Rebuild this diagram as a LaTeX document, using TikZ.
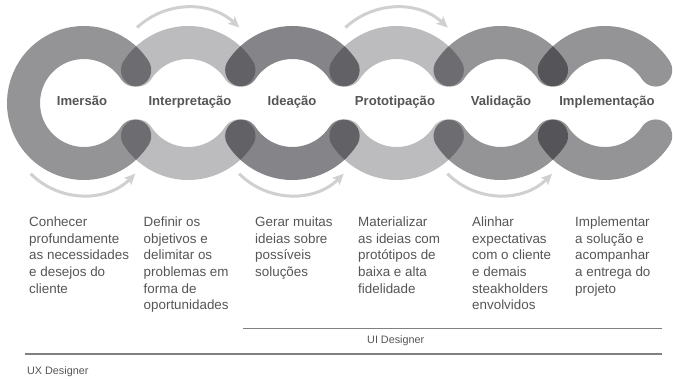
\documentclass[tikz,border=0pt]{standalone}
\usepackage{fontspec}
\setmainfont{Liberation Sans}
\usetikzlibrary{arrows.meta}
\definecolor{ringmid}{RGB}{148,148,151}
\definecolor{ringlight}{RGB}{188,188,191}
\definecolor{ringdark}{RGB}{133,133,137}
\definecolor{txt}{RGB}{85,85,87}
\definecolor{arrowgray}{RGB}{208,208,208}
\definecolor{rulegray}{RGB}{128,128,130}
\begin{document}
\begin{tikzpicture}[x=1pt,y=1pt,
  band/.style={line width=33pt, line cap=round},
  flow/.style={draw=arrowgray, line width=3pt, -{Stealth[length=11pt,width=10pt,inset=2.5pt]}},
  phase/.style={font=\fontsize{13.1}{15}\selectfont\bfseries, text=txt, inner sep=0pt, anchor=base},
  desc/.style={font=\fontsize{13.4}{16.7}\selectfont, text=txt, inner sep=0pt, anchor=north west, align=left},
  role/.style={font=\fontsize{10.8}{13}\selectfont, text=txt, inner sep=0pt, anchor=base west}]
\useasboundingbox (0,0) rectangle (673,379);
\foreach \i/\x in {1/84,2/188.2,3/292.4,4/396.6,5/500.8,6/605}
  \coordinate (r\i) at (\x,276);
% rings
\begin{scope}[blend group=multiply]
  \draw[band, draw=ringmid] (r1) ++(33:60.5) arc[start angle=33, end angle=327, radius=60.5];
  \foreach \i/\c in {2/ringlight,3/ringdark,4/ringlight,5/ringmid,6/ringmid}{
    \draw[band, draw=\c] (r\i) ++(147:60.5) arc[start angle=147, end angle=33, radius=60.5];
    \draw[band, draw=\c] (r\i) ++(213:60.5) arc[start angle=213, end angle=327, radius=60.5];
  }
\end{scope}
% flow arrows
\foreach \i in {2,4}
  \draw[flow] (r\i) ++(0,20.6) ++(133:75) arc[start angle=133, end angle=47, radius=75];
\foreach \i in {1,3,5}
  \draw[flow] (r\i) ++(-1,-18.4) ++(225:74) arc[start angle=225, end angle=315, radius=74];
% phase labels
\node[phase] (l1) at (82,273) {Imersão};
\node[phase] (l2) at (190,273) {Interpretação};
\node[phase] (l3) at (292,273) {Ideação};
\node[phase] (l4) at (395,273) {Prototipação};
\node[phase] (l5) at (501,273) {Validação};
\node[phase] (l6) at (607,273) {Implementação};
% descriptions
\node[desc] (d1) at (29,162.6) {Conhecer\\profundamente\\as necessidades\\e desejos do\\cliente};
\node[desc] (d2) at (143.5,162.6) {Definir os\\objetivos e\\delimitar os\\problemas em\\forma de\\oportunidades};
\node[desc] (d3) at (255,162.6) {Gerar muitas\\ideias sobre\\possíveis\\soluções};
\node[desc] (d4) at (358,162.6) {Materializar\\as ideias com\\protótipos de\\baixa e alta\\fidelidade};
\node[desc] (d5) at (472,162.6) {Alinhar\\expectativas\\com o cliente\\e demais\\steakholders\\envolvidos};
\node[desc] (d6) at (575,162.6) {Implementar\\a solução e\\acompanhar\\a entrega do\\projeto};
% role rules
\coordinate (uiA) at (243,50.5);
\coordinate (uiB) at (662,50.5);
\coordinate (uxA) at (25,24.5);
\coordinate (uxB) at (662,24.5);
\draw[rulegray, line width=1.2pt] (uiA) -- (uiB);
\draw[rulegray, line width=2pt] (uxA) -- (uxB);
\node[role] (ui) at (367,35) {UI Designer};
\node[role] (ux) at (27,4.5) {UX Designer};
\end{tikzpicture}
\end{document}
